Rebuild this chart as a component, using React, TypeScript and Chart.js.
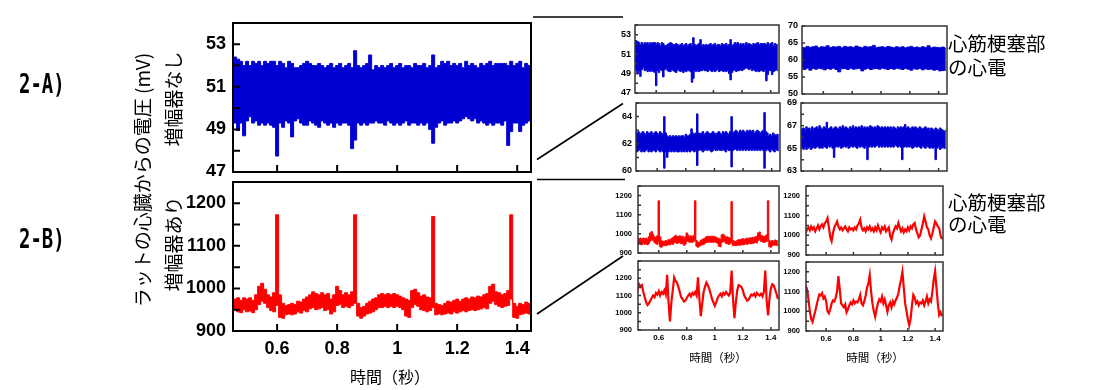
import React, { useEffect, useRef } from 'react';
import { Chart, registerables } from 'chart.js';
Chart.register(...registerables);

// sampling grid (seconds)
const T0 = 0.45;
const DT = 0.01;
const DT2 = 0.02;

// x axis ticks
const xTickValues = [0.6, 0.8, 1, 1.2, 1.4];
const xTickLabels = ['0.6', '0.8', '1', '1.2', '1.4'];

// 2-A) no amplifier, normal heart (upper / lower envelope of the noisy trace, mV)
const blueHi = [
  51.5, 52.4, 52.3, 52.2, 52.0, 52.2, 52.0, 52.2, 52.1, 52.2,
  52.0, 52.2, 52.1, 52.2, 52.2, 52.0, 52.2, 52.1, 51.9, 52.2,
  52.1, 51.9, 51.9, 52.0, 52.1, 52.2, 52.1, 52.0, 52.0, 52.1,
  52.0, 51.9, 52.0, 52.1, 51.9, 52.0, 52.1, 51.9, 52.0, 52.1,
  51.9, 52.7, 52.0, 51.9, 52.0, 52.1, 52.5, 51.8, 52.0, 51.9,
  52.0, 51.9, 52.0, 52.1, 51.9, 52.0, 52.1, 51.9, 52.0, 52.0,
  51.9, 52.1, 52.0, 52.0, 52.1, 51.9, 52.0, 52.5, 51.9, 52.0,
  52.2, 52.1, 52.2, 52.0, 52.1, 52.0, 52.1, 51.9, 52.2, 52.0,
  52.1, 52.0, 51.9, 52.1, 52.0, 52.1, 52.2, 52.0, 52.1, 52.1,
  52.1, 52.1, 52.0, 52.2, 52.0, 52.1, 52.2, 51.9, 52.1, 52.0,
  52.0,
];
const blueLo = [
  50.0, 49.3, 48.95, 49.3, 48.7, 49.4, 49.6, 49.3, 49.4, 49.2,
  49.3, 49.2, 49.3, 49.2, 49.1, 47.75, 49.3, 49.1, 49.4, 49.3,
  48.65, 49.4, 49.5, 49.3, 49.2, 49.2, 49.4, 49.3, 49.2, 49.1,
  49.4, 49.3, 49.2, 49.3, 49.1, 49.3, 49.2, 49.3, 49.3, 49.2,
  48.1, 48.5, 49.3, 49.2, 49.3, 49.2, 49.3, 49.3, 49.4, 49.3,
  49.3, 49.2, 49.4, 49.3, 49.2, 49.3, 49.2, 49.3, 49.4, 49.2,
  49.3, 49.3, 49.2, 49.3, 49.2, 49.3, 49.0, 48.35, 49.1, 49.3,
  49.4, 49.2, 49.3, 49.3, 49.4, 49.3, 49.4, 49.5, 49.6, 49.5,
  49.4, 49.5, 49.3, 49.4, 49.3, 49.2, 49.3, 49.2, 49.3, 49.3,
  49.2, 49.4, 48.25, 48.9, 49.3, 49.3, 48.9, 49.2, 49.3, 49.4,
  49.3,
];

// 2-B) with amplifier, normal heart (upper / lower envelope, mV)
const redHi = [
  978, 975, 978, 972, 978, 975, 978, 972, 985, 1005,
  1012, 998, 985, 980, 990, 1173, 985, 965, 960, 962,
  965, 962, 970, 968, 975, 980, 985, 992, 988, 985,
  990, 985, 988, 975, 985, 1005, 995, 985, 990, 985,
  992, 1173, 965, 955, 958, 965, 970, 975, 978, 985,
  988, 985, 988, 985, 988, 985, 982, 978, 975, 972,
  995, 998, 990, 982, 985, 980, 978, 1169, 965, 962,
  960, 965, 970, 968, 972, 975, 970, 975, 978, 975,
  980, 978, 982, 980, 985, 988, 1005, 1010, 992, 990,
  985, 988, 995, 1173, 965, 958, 965, 962, 968, 965,
  962,
];
const redLo = [
  945, 950, 945, 943, 950, 945, 947, 943, 950, 962,
  970, 965, 955, 948, 945, 960, 932, 930, 938, 940,
  938, 940, 945, 942, 948, 945, 952, 955, 950, 952,
  955, 948, 950, 940, 945, 960, 962, 955, 958, 955,
  960, 965, 935, 930, 935, 940, 942, 945, 950, 955,
  955, 958, 955, 958, 955, 958, 955, 950, 935, 932,
  955, 962, 958, 950, 948, 945, 948, 955, 938, 940,
  938, 940, 942, 940, 945, 942, 945, 948, 945, 948,
  950, 948, 950, 952, 955, 952, 965, 970, 962, 958,
  955, 958, 960, 975, 932, 930, 938, 940, 942, 940,
  938,
];

// 2-A) infarct, top-right (sampled every 0.02 s)
const a2Hi = [
  63.8, 63.6, 64.0, 63.7, 63.9, 64.1, 63.6, 63.9, 63.8, 64.2,
  63.7, 63.9, 63.8, 64.0, 63.6, 64.0, 63.8, 63.9, 63.7, 64.1,
  63.8, 63.6, 64.0, 63.8, 63.9, 64.3, 63.7, 63.8, 63.9, 63.7,
  64.0, 63.8, 63.6, 63.9, 63.7, 63.9, 63.6, 63.8, 64.0, 63.7,
  63.8, 63.6, 63.9, 63.7, 64.2, 63.6, 63.8, 63.7, 63.6, 63.8,
  63.5,
];
const a2Lo = [
  57.4, 57.2, 57.6, 57.0, 57.5, 57.3, 57.6, 57.4, 57.1, 57.5,
  57.3, 57.6, 57.2, 56.5, 57.4, 57.5, 57.2, 57.6, 57.3, 57.4,
  57.5, 56.8, 57.3, 57.6, 57.2, 57.4, 57.5, 57.3, 57.6, 57.4,
  57.2, 57.5, 57.3, 57.6, 57.4, 57.2, 57.5, 57.3, 57.0, 57.4,
  57.3, 57.5, 57.1, 57.4, 57.2, 57.3, 57.0, 57.2, 56.8, 56.9,
  57.0,
];

// 2-A) bottom-left
const a3Hi = [
  62.9, 62.8, 62.9, 62.7, 62.8, 62.9, 62.8, 62.7, 62.9, 62.8,
  62.8, 62.9, 62.7, 62.8, 62.9, 62.8, 62.7, 62.9, 62.8, 62.7,
  64.0, 62.8, 62.6, 62.5, 62.6, 62.5, 62.6, 62.5, 62.6, 62.5,
  62.6, 62.5, 62.6, 62.6, 62.5, 62.7, 62.6, 62.6, 62.7, 63.1,
  62.8, 62.7, 62.8, 64.2, 62.8, 62.7, 62.8, 62.9, 62.7, 62.8,
  62.9, 62.8, 62.7, 62.8, 62.9, 62.8, 62.7, 62.8, 62.9, 62.8,
  62.7, 62.9, 62.8, 62.9, 62.8, 62.7, 62.9, 64.0, 62.8, 62.9,
  63.0, 62.9, 62.8, 63.0, 62.9, 63.0, 62.9, 62.8, 63.0, 62.9,
  63.0, 62.9, 63.0, 62.8, 62.9, 63.0, 62.9, 62.8, 62.9, 63.0,
  64.3, 62.9, 62.8, 62.6, 62.7, 62.6, 62.8, 62.7, 62.6, 62.7,
  62.6,
];
const a3Lo = [
  61.5, 61.4, 61.5, 61.6, 61.4, 61.5, 61.4, 61.5, 61.6, 61.4,
  61.5, 61.4, 61.5, 61.5, 61.4, 61.6, 61.5, 61.4, 61.5, 61.4,
  60.2, 61.4, 61.0, 61.4, 61.5, 61.4, 61.5, 61.4, 61.5, 61.4,
  61.4, 61.5, 61.4, 61.5, 61.4, 61.5, 61.4, 61.5, 61.4, 61.5,
  61.5, 61.4, 61.5, 60.4, 61.5, 61.6, 61.5, 61.4, 61.5, 61.6,
  61.5, 61.6, 61.5, 61.4, 61.5, 61.6, 61.5, 61.5, 61.6, 61.5,
  61.5, 61.6, 61.5, 61.4, 61.6, 61.5, 61.5, 60.3, 61.5, 61.6,
  61.6, 61.5, 61.6, 61.5, 61.6, 61.5, 61.6, 61.5, 61.6, 61.5,
  61.6, 61.5, 61.6, 61.5, 61.6, 61.5, 61.6, 61.5, 61.6, 61.5,
  60.2, 61.5, 61.6, 61.5, 61.4, 61.6, 61.5, 61.4, 61.6, 61.5,
  61.5,
];

// 2-A) bottom-right
const a4Hi = [
  66.2, 66.7, 66.8, 66.6, 66.9, 66.7, 66.8, 66.6, 66.9, 66.7,
  66.8, 66.9, 66.7, 67.0, 66.8, 66.7, 66.9, 66.8, 67.3, 66.7,
  66.8, 66.9, 66.7, 66.8, 66.9, 66.8, 66.7, 66.9, 66.8, 67.0,
  66.8, 66.9, 66.8, 66.7, 66.9, 66.8, 67.0, 66.8, 66.9, 66.8,
  66.9, 66.8, 67.0, 66.8, 66.9, 66.8, 66.9, 66.8, 67.0, 66.9,
  66.8, 66.9, 66.8, 67.0, 66.9, 66.8, 66.9, 66.8, 66.9, 66.8,
  66.9, 66.8, 66.9, 66.7, 66.9, 66.8, 66.7, 66.9, 66.8, 66.9,
  66.8, 66.9, 67.1, 66.8, 66.9, 66.8, 66.7, 66.9, 66.8, 66.9,
  66.8, 66.7, 66.9, 66.8, 66.7, 66.8, 66.9, 66.7, 66.8, 66.6,
  66.8, 66.7, 66.6, 66.8, 66.7, 66.6, 66.8, 66.7, 66.6, 66.5,
  66.6,
];
const a4Lo = [
  65.6, 65.0, 64.9, 65.1, 64.9, 65.0, 65.1, 64.9, 65.0, 65.1,
  65.0, 65.1, 65.2, 65.0, 65.1, 65.0, 65.2, 65.1, 65.0, 65.2,
  65.1, 65.2, 65.0, 64.2, 65.1, 65.2, 65.1, 65.2, 65.0, 65.1,
  65.2, 65.1, 65.2, 65.0, 65.1, 65.2, 65.1, 65.2, 65.1, 65.0,
  65.2, 65.1, 65.2, 65.1, 65.0, 65.2, 64.0, 65.1, 65.2, 65.1,
  65.2, 65.1, 65.2, 65.3, 65.1, 65.2, 65.1, 65.2, 65.1, 65.2,
  65.1, 65.2, 65.1, 65.2, 65.1, 65.3, 65.2, 65.1, 65.2, 65.1,
  64.0, 65.1, 65.2, 65.1, 65.2, 65.1, 65.2, 65.0, 65.1, 65.2,
  65.1, 65.2, 65.1, 65.0, 65.2, 65.1, 65.0, 65.2, 65.1, 65.0,
  65.1, 65.0, 65.1, 64.0, 65.0, 65.1, 64.9, 65.0, 65.1, 65.0,
  65.0,
];

// 2-B) infarct / other traces
const b2 = [
  1012, 1030, 1040, 1025, 1045, 1030, 1040, 1020, 1035, 1050,
  1030, 1045, 1055, 1040, 1060, 1070, 1087, 1040, 990, 970,
  1010, 1040, 1055, 1070, 1045, 1030, 1040, 1025, 1035, 1045,
  1030, 1020, 1040, 1030, 1035, 1025, 1040, 1030, 1050, 1060,
  1079, 1040, 1025, 1035, 1020, 1040, 1030, 1045, 1025, 1035,
  1020, 1040, 1025, 1050, 1030, 1015, 1040, 1030, 1045, 1020,
  1030, 1040, 995, 978, 1010, 1030, 1045, 1035, 1062, 1040,
  1020, 1035, 1015, 1030, 1020, 1040, 1025, 1045, 1035, 1055,
  1062, 1030, 1010, 990, 1000, 1030, 1060, 1096, 1070, 1040,
  1030, 1000, 985, 1010, 1040, 1070, 1060, 1045, 1035, 1000,
  980,
];
const b3 = [
  1130, 1165, 1150, 1160, 1120, 1090, 1060, 1045, 1055, 1070,
  1085, 1100, 1090, 1115, 1105, 1125, 1100, 1120, 1110, 1130,
  1105, 1220, 1060, 950, 1060, 1130, 1205, 1185, 1175, 1150,
  1120, 1090, 1080, 1065, 1070, 1085, 1100, 1110, 1095, 1115,
  1105, 1120, 1100, 1205, 1080, 980, 1050, 1120, 1150, 1175,
  1160, 1140, 1110, 1080, 1060, 1040, 1060, 1085, 1100, 1110,
  1095, 1115, 1105, 1120, 1110, 1100, 1115, 1245, 1080, 968,
  1060, 1130, 1160, 1155, 1150, 1130, 1100, 1085, 1070, 1075,
  1090, 1105, 1100, 1110, 1095, 1115, 1105, 1100, 1110, 1095,
  1120, 1245, 1070, 985, 1080, 1140, 1165, 1160, 1135, 1110,
  1080,
];
const b4 = [
  1130, 1110, 1060, 1000, 960, 946, 975, 1000, 1030, 1060,
  1085, 1080, 1092, 1065, 1075, 1050, 1000, 990, 1010, 1040,
  1055, 1050, 1070, 1100, 1178, 1110, 1040, 1030, 1020, 1035,
  995, 1010, 1030, 1045, 1035, 1055, 1040, 1050, 1045, 1060,
  1083, 1040, 1030, 1050, 1080, 1120, 1140, 1183, 1100, 1040,
  1000, 972, 1010, 1040, 1060, 1050, 1075, 1040, 1060, 1030,
  998, 1030, 1045, 1020, 1050, 1035, 1055, 1070, 1090, 1130,
  1160, 1200, 1120, 1040, 1000, 960, 929, 960, 1030, 1083,
  1070, 1040, 1050, 1030, 1045, 1040, 1055, 1030, 1050, 1075,
  1040, 1060, 1050, 1100, 1160, 1203, 1120, 1040, 981, 995,
  975,
];

// y-axis tick marks and labelled values
const yTicksA1 = [47, 48, 49, 50, 51, 52, 53, 54];
const yLabelsA1 = [47, 49, 51, 53];
const yTicksB1 = [900, 950, 1000, 1050, 1100, 1150, 1200, 1250];
const yLabelsB1 = [900, 1000, 1100, 1200];
const yTicksA2 = [50, 55, 60, 65, 70];
const yLabelsA2 = [50, 55, 60, 65, 70];
const yTicksA3 = [60, 61, 62, 63, 64, 65];
const yLabelsA3 = [60, 62, 64];
const yTicksA4 = [63, 64, 65, 66, 67, 68, 69];
const yLabelsA4 = [63, 65, 67, 69];
const yTicksB3 = [900, 950, 1000, 1050, 1100, 1150, 1200, 1250, 1300];

const BLUE = '#0000d2';
const RED = '#ff0000';

const toXY = (vals: number[], dt: number) =>
  vals.map((y, i) => ({ x: +(T0 + i * dt).toFixed(4), y }));

const band = (hi: number[], lo: number[], dt: number, color: string) => [
  { data: toXY(hi, dt), borderColor: color, backgroundColor: color, borderWidth: 1, fill: '+1', stepped: 'middle', pointRadius: 0 },
  { data: toXY(lo, dt), borderColor: color, backgroundColor: color, borderWidth: 1, fill: false, stepped: 'middle', pointRadius: 0 },
];
const trace = (vals: number[], color: string) => [
  { data: toXY(vals, DT), borderColor: color, borderWidth: 2.2, fill: false, pointRadius: 0 },
];

const framePlugin = {
  id: 'frame',
  afterDatasetsDraw(chart: any, _args: any, opts: any) {
    const { ctx, chartArea: a, scales } = chart;
    ctx.save();
    ctx.strokeStyle = opts.color;
    ctx.lineWidth = opts.width;
    ctx.beginPath();
    for (const t of scales.y.ticks) {
      const y = scales.y.getPixelForValue(t.value);
      ctx.moveTo(a.left, y);
      ctx.lineTo(a.left + opts.len, y);
    }
    for (const t of scales.x.ticks) {
      const x = scales.x.getPixelForValue(t.value);
      ctx.moveTo(x, a.bottom);
      ctx.lineTo(x, a.bottom - opts.len);
    }
    ctx.stroke();
    ctx.strokeRect(a.left, a.top, a.right - a.left, a.bottom - a.top);
    ctx.restore();
  },
};

const has = (arr: number[], v: number) => arr.some((u) => Math.abs(u - v) < 1e-9);

type PanelProps = {
  box: [number, number, number, number];
  pad: [number, number, number, number];
  xMin: number; xMax: number; yMin: number; yMax: number;
  yTicks: number[]; yLabels: number[];
  showX: boolean;
  datasets: any[];
  yFont: number; xFont: number; yPad: number; xPad: number;
  frameWidth: number; frameColor: string; tickLen: number;
};

function Panel(p: PanelProps) {
  const ref = useRef<HTMLCanvasElement>(null);
  const [l, t, r, b] = p.box;
  const [pl, pt, pr, pb] = p.pad;
  const w = r - l + pl + pr;
  const h = b - t + pt + pb;
  useEffect(() => {
    const chart = new Chart(ref.current as HTMLCanvasElement, {
      type: 'line',
      data: { datasets: p.datasets },
      plugins: [framePlugin],
      options: {
        responsive: false,
        animation: false,
        devicePixelRatio: 1,
        events: [],
        layout: { padding: { left: 0, top: pt, right: pr, bottom: 0 } },
        elements: { point: { radius: 0 }, line: { tension: 0 } },
        plugins: {
          legend: { display: false },
          tooltip: { enabled: false },
          frame: { color: p.frameColor, width: p.frameWidth, len: p.tickLen },
        } as any,
        scales: {
          x: {
            type: 'linear', min: p.xMin, max: p.xMax,
            grid: { display: false, drawTicks: false },
            border: { display: false },
            afterBuildTicks: (s: any) => { s.ticks = xTickValues.map((v) => ({ value: v })); },
            afterFit: (s: any) => { s.height = pb; s.paddingLeft = 0; s.paddingRight = 0; },
            ticks: {
              display: p.showX, autoSkip: false, maxRotation: 0, minRotation: 0, padding: p.xPad,
              color: '#000',
              font: { family: '"Liberation Sans", Arial, sans-serif', size: p.xFont, weight: 'bold' },
              callback: (v: any) => {
                const i = xTickValues.findIndex((u) => Math.abs(u - v) < 1e-9);
                return i >= 0 ? xTickLabels[i] : '';
              },
            },
          },
          y: {
            type: 'linear', min: p.yMin, max: p.yMax,
            grid: { display: false, drawTicks: false },
            border: { display: false },
            afterBuildTicks: (s: any) => { s.ticks = p.yTicks.map((v) => ({ value: v })); },
            afterFit: (s: any) => { s.width = pl; s.paddingTop = 0; s.paddingBottom = 0; },
            ticks: {
              autoSkip: false, padding: p.yPad, color: '#000',
              font: { family: '"Liberation Sans", Arial, sans-serif', size: p.yFont, weight: 'bold' },
              callback: (v: any) => (has(p.yLabels, v) ? String(v) : ''),
            },
          },
        } as any,
      } as any,
    });
    return () => chart.destroy();
  }, []);
  return (
    <canvas
      ref={ref}
      width={w}
      height={h}
      style={{ position: 'absolute', left: l - pl, top: t - pt, width: w, height: h, display: 'block' }}
    />
  );
}

const mainStyle = { yFont: 18, xFont: 18, yPad: 7, xPad: 7, frameWidth: 2, frameColor: '#000', tickLen: 7 };
const smallBlue = { yFont: 9, xFont: 8, yPad: 4, xPad: 3, frameWidth: 1.5, frameColor: '#333', tickLen: 3 };
const smallRed = { yFont: 7.5, xFont: 8, yPad: 6, xPad: 3, frameWidth: 1.5, frameColor: '#333', tickLen: 3 };

const CJK = '"Noto Sans CJK JP", "Noto Sans CJK SC", sans-serif';

function VText({ x, y, text, size }: { x: number; y: number; text: string; size: number }) {
  return (
    <div
      style={{
        position: 'absolute', left: x, top: y, transform: 'translate(-50%,-50%) rotate(-90deg)',
        whiteSpace: 'nowrap', fontFamily: CJK, fontSize: size, lineHeight: `${size}px`, color: '#000',
      }}
    >
      {text}
    </div>
  );
}

function HText({ x, y, text, size, center }: { x: number; y: number; text: string; size: number; center?: boolean }) {
  return (
    <div
      style={{
        position: 'absolute', left: x, top: y,
        transform: center ? 'translate(-50%,-50%)' : 'translate(0,-50%)',
        whiteSpace: 'nowrap', fontFamily: CJK, fontSize: size, lineHeight: `${size}px`, color: '#000',
      }}
    >
      {text}
    </div>
  );
}

function Tag({ y, text }: { y: number; text: string }) {
  return (
    <div
      style={{
        position: 'absolute', left: 19, top: y, whiteSpace: 'nowrap',
        fontFamily: '"DejaVu Sans Mono", monospace', fontWeight: 'bold', fontSize: 27, lineHeight: '27px',
        transform: 'scaleX(0.7)', transformOrigin: 'left center', color: '#000',
      }}
    >
      {text}
    </div>
  );
}

export default function App() {
  const sx = { xMin: 0.452, xMax: 1.458 };
  return (
    <div style={{ position: 'absolute', left: 0, top: 0, width: 1104, height: 390, background: '#fff', overflow: 'hidden' }}>
      <Panel box={[233, 23, 531, 172]} pad={[60, 14, 4, 4]} xMin={0.453} xMax={1.446} yMin={47} yMax={54}
        yTicks={yTicksA1} yLabels={yLabelsA1} showX={false} datasets={band(blueHi, blueLo, DT, BLUE)} {...mainStyle} />
      <Panel box={[233, 182, 531, 331]} pad={[60, 14, 4, 30]} xMin={0.453} xMax={1.446} yMin={900} yMax={1250}
        yTicks={yTicksB1} yLabels={yLabelsB1} showX={true} datasets={band(redHi, redLo, DT, RED)} {...mainStyle} />

      <Panel box={[635, 25, 779, 93]} pad={[30, 8, 4, 4]} {...sx} yMin={47} yMax={54}
        yTicks={yTicksA1} yLabels={yLabelsA1} showX={false} datasets={band(blueHi, blueLo, DT, BLUE)} {...smallBlue} />
      <Panel box={[802, 26, 947, 94]} pad={[30, 8, 4, 4]} {...sx} yMin={50} yMax={70}
        yTicks={yTicksA2} yLabels={yLabelsA2} showX={false} datasets={band(a2Hi, a2Lo, DT2, BLUE)} {...smallBlue} />
      <Panel box={[636, 103, 780, 171]} pad={[30, 8, 4, 4]} {...sx} yMin={60} yMax={65}
        yTicks={yTicksA3} yLabels={yLabelsA3} showX={false} datasets={band(a3Hi, a3Lo, DT, BLUE)} {...smallBlue} />
      <Panel box={[801, 103, 947, 171]} pad={[30, 8, 4, 4]} {...sx} yMin={63} yMax={69}
        yTicks={yTicksA4} yLabels={yLabelsA4} showX={false} datasets={band(a4Hi, a4Lo, DT, BLUE)} {...smallBlue} />

      <Panel box={[638, 186, 779, 253]} pad={[30, 8, 4, 4]} {...sx} yMin={900} yMax={1250}
        yTicks={yTicksB1} yLabels={yLabelsB1} showX={false} datasets={band(redHi, redLo, DT, RED)} {...smallRed} />
      <Panel box={[806, 186, 943, 255]} pad={[30, 8, 4, 4]} {...sx} yMin={900} yMax={1250}
        yTicks={yTicksB1} yLabels={yLabelsB1} showX={false} datasets={trace(b2, RED)} {...smallRed} />
      <Panel box={[638, 261, 779, 330]} pad={[30, 8, 4, 16]} {...sx} yMin={900} yMax={1300}
        yTicks={yTicksB3} yLabels={yLabelsB1} showX={true} datasets={trace(b3, RED)} {...smallRed} />
      <Panel box={[806, 262, 943, 331]} pad={[30, 8, 4, 16]} {...sx} yMin={900} yMax={1250}
        yTicks={yTicksB1} yLabels={yLabelsB1} showX={true} datasets={trace(b4, RED)} {...smallRed} />

      <svg width={1104} height={390} style={{ position: 'absolute', left: 0, top: 0, pointerEvents: 'none' }}>
        <g stroke="#000" strokeWidth={1.6}>
          <line x1={533} y1={17} x2={623} y2={17} />
          <line x1={537} y1={159.5} x2={623} y2={103.5} />
          <line x1={537} y1={179.5} x2={625} y2={179.5} />
          <line x1={537} y1={314} x2={623} y2={256} />
        </g>
      </svg>

      <Tag y={70} text="2-A)" />
      <Tag y={224.5} text="2-B)" />

      <VText x={141} y={180} text="ラットの心臓からの電圧 (mV)" size={19} />
      <VText x={172} y={99} text="増幅器なし" size={19} />
      <VText x={172} y={244} text="増幅器あり" size={19} />

      <HText x={390} y={376} text="時間（秒）" size={16} center />
      <HText x={718} y={358} text="時間（秒）" size={11.5} center />
      <HText x={875} y={358} text="時間（秒）" size={11.5} center />

      <HText x={948} y={43} text="心筋梗塞部" size={19.5} />
      <HText x={948} y={67} text="の心電" size={19.5} />
      <HText x={948} y={202} text="心筋梗塞部" size={19.5} />
      <HText x={948} y={224} text="の心電" size={19.5} />
    </div>
  );
}
